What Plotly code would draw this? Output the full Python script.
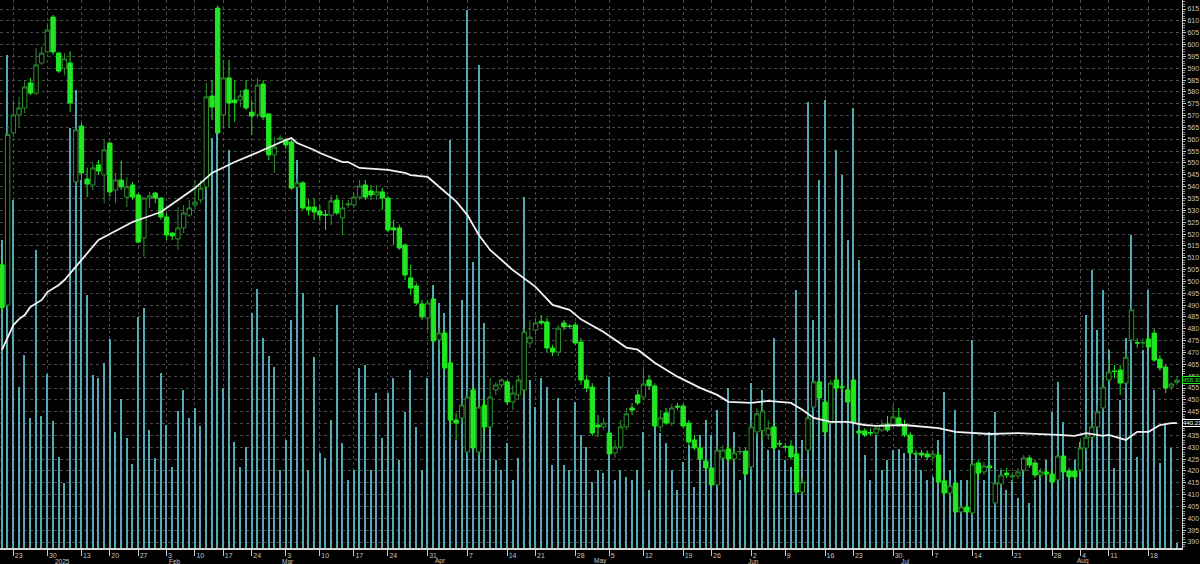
import plotly.graph_objects as go

# ---------------- data ----------------
opens = [507, 490, 562.7, 570.3, 573.2, 583.8, 579.5, 592.2, 596.9, 611.6,
         596.4, 590.0, 592.2, 542.0, 565.6, 543.2, 540.7, 549.2, 545.0, 558.4,
         538.6, 542.8, 535.6, 540.7, 536.5, 518.3, 535.2, 537.3, 535.2, 527.2,
         520.4, 517.9, 522.6, 528.0, 532.3, 534.4, 539.9, 578.3, 615.4, 570.3,
         585.9, 576.6, 576.6, 580.8, 571.5, 570.3, 583.3, 570.7, 553.4, 560.0,
         559.7, 558.9, 539.9, 541.6, 531.4, 531.4, 529.7, 528.2, 528.0, 534.4,
         526.8, 532.3, 532.3, 535.6, 540.7, 538.2, 536.5, 537.8, 535.2, 522.6,
         522.6, 515.4, 501.5, 498.1, 490.5, 484.6, 492.6, 475.3, 478.2, 465.6,
         441.5, 442.4, 428.0, 454.2, 428.0, 447.8, 438.6, 454.2, 456.3, 457.6,
         449.1, 452.1, 454.2, 474.0, 479.5, 483.2, 482.9, 471.9, 470.2, 482.5,
         481.2, 481.6, 474.4, 458.4, 455.4, 439.4, 438.6, 436.0, 427.6, 430.1,
         438.6, 446.6, 452.1, 451.2, 458.4, 455.9, 438.6, 444.5, 440.2, 447.4,
         447.4, 440.2, 433.1, 429.7, 424.2, 421.3, 414.1, 425.5, 429.3, 425.1,
         428.0, 428.4, 421.7, 436.5, 437.0, 435.2, 438.6, 431.6, 430.3, 430.5,
         427.2, 411.1, 428.8, 447.0, 457.6, 449.1, 440.2, 458.4, 455.6, 454.2,
         458.4, 436.9, 436.9, 436.2, 436.0, 437.3, 439.8, 439.8, 442.4, 439.4,
         435.2, 427.4, 427.6, 427.2, 425.9, 426.7, 415.8, 410.7, 414.9, 402.7,
         404.8, 402.3, 423.4, 419.6, 422.1, 406.5, 414.5, 419.1, 417.5, 417.9,
         420.4, 425.5, 423.4, 418.3, 419.6, 418.7, 416.2, 426.3, 420.0, 420.0,
         420.4, 429.7, 434.3, 438.6, 446.6, 458.4, 462.2, 462.6, 457.1, 475.3,
         474.2, 474.0, 475.7, 478.2, 467.2, 463.9, 455.4, 457.4]
highs = [510, 566, 576.6, 577.9, 585.0, 585.9, 598.5, 599.0, 609.0, 612.5,
         596.9, 596.4, 597.0, 565.0, 567.0, 548.0, 550.0, 551.3, 559.7, 559.0,
         545.8, 551.0, 544.0, 542.0, 537.3, 535.6, 537.8, 537.8, 535.6, 529.0,
         520.8, 531.4, 532.3, 534.4, 542.8, 542.8, 583.8, 585.0, 616.5, 593.5,
         593.5, 585.0, 580.8, 585.0, 576.6, 585.9, 585.0, 571.0, 561.0, 561.8,
         560.5, 559.7, 543.7, 542.4, 534.8, 534.8, 532.3, 530.0, 536.5, 536.5,
         534.4, 534.4, 537.3, 542.8, 542.8, 540.7, 540.7, 539.4, 536.0, 526.0,
         524.0, 516.0, 507.0, 499.3, 492.2, 492.2, 496.4, 480.3, 479.5, 466.8,
         444.5, 450.8, 454.2, 455.0, 450.0, 450.0, 459.2, 457.5, 459.2, 458.4,
         456.3, 460.5, 480.3, 483.7, 484.6, 485.8, 484.6, 473.2, 481.6, 483.7,
         482.0, 482.9, 476.0, 460.5, 457.0, 443.6, 442.4, 437.3, 433.0, 441.5,
         446.6, 448.7, 454.2, 463.5, 460.5, 457.0, 445.7, 446.6, 448.3, 448.7,
         448.3, 441.5, 435.2, 431.0, 425.5, 422.5, 431.0, 431.0, 431.0, 429.7,
         430.0, 429.7, 441.5, 446.6, 447.8, 441.5, 440.2, 433.1, 431.8, 433.1,
         428.8, 417.0, 445.7, 459.2, 459.2, 450.0, 458.4, 460.0, 457.1, 455.9,
         459.7, 438.1, 438.1, 438.1, 439.4, 441.5, 443.2, 447.8, 446.6, 441.5,
         436.5, 428.8, 428.8, 428.8, 428.8, 428.0, 417.0, 415.3, 416.2, 405.6,
         405.6, 424.6, 424.6, 423.8, 423.8, 420.4, 421.3, 421.3, 419.6, 421.3,
         426.7, 426.7, 424.6, 421.3, 420.4, 420.4, 428.8, 428.0, 421.3, 421.3,
         433.1, 437.3, 441.5, 447.8, 458.4, 466.8, 464.7, 464.7, 471.0, 492.0,
         476.0, 476.0, 477.0, 480.0, 469.0, 465.0, 457.5, 460.0]
lows = [487, 488, 561.0, 565.2, 571.0, 578.7, 578.7, 591.4, 596.4, 595.6,
        588.0, 587.0, 571.5, 540.0, 542.8, 535.6, 538.6, 545.0, 533.0, 535.6,
        533.0, 538.6, 531.4, 534.4, 516.2, 510.5, 531.0, 533.0, 526.0, 517.5,
        517.5, 513.3, 520.4, 527.2, 530.2, 533.0, 538.6, 568.0, 562.0, 564.8,
        565.0, 567.3, 573.6, 572.4, 561.8, 569.0, 568.1, 551.3, 545.8, 559.0,
        556.0, 538.6, 538.6, 530.0, 528.0, 526.0, 525.5, 521.7, 523.8, 528.0,
        519.6, 531.0, 531.0, 534.4, 534.4, 534.4, 534.4, 530.2, 520.8, 515.4,
        513.3, 500.6, 494.3, 490.0, 483.7, 479.5, 473.2, 471.0, 462.6, 439.4,
        433.1, 439.4, 426.7, 428.8, 426.7, 437.0, 437.3, 452.1, 455.0, 447.8,
        445.7, 450.0, 452.1, 471.9, 477.4, 481.6, 470.2, 468.5, 468.5, 479.5,
        480.0, 473.0, 456.3, 453.3, 434.8, 434.3, 437.3, 425.5, 425.5, 428.8,
        437.3, 443.6, 447.8, 449.9, 454.2, 438.1, 436.5, 439.4, 439.0, 445.7,
        438.1, 431.0, 428.8, 423.8, 419.6, 413.2, 413.2, 424.6, 423.8, 423.8,
        426.7, 417.9, 420.4, 434.8, 433.0, 433.1, 428.8, 430.1, 428.8, 424.6,
        410.3, 410.3, 426.7, 445.7, 450.0, 435.2, 439.4, 453.3, 453.3, 447.8,
        439.4, 434.8, 434.3, 434.8, 434.8, 436.5, 436.5, 438.9, 438.6, 434.3,
        426.7, 425.5, 425.5, 424.6, 423.8, 414.5, 409.9, 409.4, 401.9, 401.9,
        401.9, 401.5, 416.2, 418.3, 420.4, 405.6, 412.8, 417.0, 415.3, 416.6,
        419.6, 421.3, 417.0, 417.0, 417.5, 414.5, 415.3, 418.3, 416.2, 417.0,
        419.6, 428.8, 433.1, 437.3, 445.7, 457.6, 459.2, 452.1, 455.0, 474.0,
        472.0, 472.0, 471.0, 466.0, 462.2, 452.9, 454.2, 456.3]
closes = [489, 562, 570.3, 573.2, 582.1, 579.5, 591.4, 596.4, 606.1, 596.9,
          588.8, 593.9, 575.3, 564.0, 545.8, 541.1, 547.9, 546.6, 555.5, 537.8,
          542.8, 539.9, 539.9, 535.6, 516.6, 535.2, 536.1, 535.2, 527.2, 519.6,
          519.2, 522.6, 528.9, 531.0, 533.5, 539.4, 577.9, 573.6, 562.7, 585.9,
          575.3, 575.5, 578.3, 573.2, 569.8, 582.9, 569.4, 553.4, 556.7, 560.5,
          557.6, 539.4, 541.6, 531.0, 530.2, 529.3, 528.0, 528.0, 534.0, 528.9,
          531.0, 532.7, 535.6, 540.3, 535.6, 536.5, 537.8, 535.2, 521.7, 521.7,
          514.1, 502.7, 497.2, 490.9, 485.0, 490.9, 474.9, 478.2, 463.5, 441.5,
          440.2, 447.8, 451.2, 429.7, 447.0, 438.6, 451.2, 456.3, 458.4, 449.1,
          452.9, 458.4, 478.7, 476.5, 482.5, 482.5, 471.9, 470.2, 480.3, 480.8,
          481.0, 474.0, 458.4, 455.0, 436.0, 438.6, 440.2, 427.2, 430.1, 438.6,
          444.1, 445.7, 448.7, 456.7, 455.9, 439.0, 442.4, 440.2, 446.6, 447.0,
          439.0, 432.2, 429.7, 425.1, 421.3, 414.1, 428.8, 428.8, 425.1, 427.6,
          428.2, 418.7, 438.6, 444.1, 445.3, 438.1, 429.7, 431.4, 430.1, 425.9,
          411.1, 415.3, 442.4, 457.6, 450.8, 436.5, 457.1, 455.0, 455.4, 449.1,
          440.7, 436.0, 435.2, 436.0, 438.1, 439.4, 437.3, 442.8, 439.4, 435.2,
          427.6, 427.2, 426.7, 425.9, 427.2, 415.3, 410.7, 413.7, 402.7, 404.8,
          402.7, 422.9, 419.1, 422.1, 421.3, 414.9, 418.3, 418.3, 417.9, 419.6,
          425.5, 422.5, 418.3, 419.6, 418.7, 415.3, 426.3, 419.6, 417.5, 417.5,
          429.7, 434.3, 438.6, 444.9, 455.4, 461.8, 462.0, 457.1, 468.0, 488.0,
          474.0, 474.2, 472.3, 466.8, 463.5, 455.0, 456.7, 458.3]
volumes = [308, 493, 348, 161, 193, 130, 298, 132, 174, 127,
           91, 65, 420, 458, 368, 253, 173, 170, 185, 209,
           116, 149, 110, 84, 231, 240, 118, 90, 175, 123,
           81, 137, 158, 130, 140, 122, 411, 410, 528, 160,
           398, 106, 81, 101, 235, 259, 210, 192, 181, 78,
           108, 228, 388, 255, 78, 191, 95, 90, 128, 243,
           105, 68, 78, 180, 183, 78, 155, 110, 155, 170,
           88, 136, 178, 121, 78, 170, 263, 245, 235, 408,
           108, 248, 538, 286, 483, 225, 151, 88, 78, 105,
           68, 90, 351, 168, 141, 170, 161, 83, 150, 83,
           78, 146, 113, 101, 66, 78, 75, 171, 68, 78,
           71, 68, 78, 116, 58, 123, 115, 105, 78, 58,
           86, 103, 61, 113, 128, 113, 138, 98, 160, 116,
           68, 95, 165, 115, 158, 98, 210, 98, 88, 81,
           258, 108, 446, 228, 368, 448, 138, 398, 373, 308,
           440, 288, 93, 68, 113, 78, 88, 98, 99, 95,
           95, 93, 78, 68, 71, 108, 156, 78, 138, 68,
           68, 208, 78, 68, 116, 136, 78, 58, 68, 50,
           78, 45, 68, 78, 88, 136, 166, 126, 78, 88,
           106, 233, 278, 218, 258, 198, 80, 148, 210, 313,
           91, 198, 258, 158, 85, 123, 100, 5]

ma_idx = [0, 1, 2, 3, 4, 5, 7, 8, 10, 11, 14, 17, 23, 28, 31, 34, 37, 41, 44, 47,
          50, 51, 52, 55, 56, 60, 61, 63, 66, 68, 71, 72, 75, 77, 80, 82, 84, 86, 90, 94,
          97, 100, 102, 106, 110, 112, 115, 119, 123, 126, 128, 132, 135, 139, 141, 143,
          146, 149, 152, 154, 159, 165, 168, 174, 179, 186, 189, 191, 194, 195, 198, 200,
          202, 204, 206, 207]
ma_val = [471.1, 476.1, 481.6, 484.1, 485.8, 489.2, 492.2, 495.5, 498.5, 500.6,
          509.1, 517.5, 525.1, 529.3, 534.4, 539.4, 545.8, 550.4, 553.4, 556.7,
          559.7, 560.5, 558.4, 555.5, 554.2, 550.4, 550.4, 547.9, 547.3, 547.1,
          545.8, 544.9, 544.1, 539.9, 533.8, 528.0, 519.6, 513.3, 504.8, 497.7,
          490.1, 488.0, 484.0, 478.7, 472.1, 471.2, 465.7, 459.8, 455.1, 452.1,
          449.2, 448.7, 449.6, 448.7, 445.8, 442.4, 440.7, 440.7, 439.4, 439.0,
          439.4, 438.1, 436.5, 435.6, 436.0, 435.2, 434.8, 436.0, 434.8, 435.2,
          433.1, 436.5, 436.5, 439.4, 440.2, 440.21]

tick_idx = [2, 8, 14, 19, 24, 29, 34, 39, 44, 50, 56, 62, 68, 75, 82, 89, 94,
            101, 107, 113, 120, 125, 132, 138, 145, 150, 157, 164, 171, 178, 185,
            190, 195, 202]
tick_text = ["23", "30", "13", "20", "27", "3", "10", "17", "24", "3", "10", "17",
             "24", "31", "7", "14", "21", "28", "5", "12", "19", "26", "2", "9",
             "16", "23", "30", "7", "14", "21", "28", "4", "11", "18"]
month_idx = [9, 29, 49, 76, 104, 131, 158, 189]
month_text = ["2025", "Feb", "Mar", "Apr", "May", "Jun", "Jul", "Aug"]
price_ticks = list(range(390, 616, 5))
# the 440 label sits under the moving-average value box in the reference
price_tick_text = ["" if v == 440 else str(v) for v in price_ticks]

# ---------------- figure ----------------
n = len(closes)
bars = list(range(n))

BG = "#000000"
BRIGHT = "#22e622"
DIM = "#2e902e"
VOL = "#52aab4"
GRID = "#4a4a4a"
AXIS_TXT = "#c4c4c4"
FONT = "Liberation Sans, Arial"
NARROW = "Liberation Sans Narrow, Liberation Sans, Arial"

fig = go.Figure()

fig.add_trace(go.Bar(
    x=bars, y=volumes, width=0.26,
    marker=dict(color=VOL, line=dict(width=0)),
    yaxis="y", hoverinfo="skip", showlegend=False,
))

fig.add_trace(go.Candlestick(
    x=bars, open=opens, high=highs, low=lows, close=closes,
    yaxis="y2",
    increasing=dict(line=dict(color=DIM, width=1), fillcolor=BG),
    decreasing=dict(line=dict(color=BRIGHT, width=1), fillcolor=BRIGHT),
    whiskerwidth=0, showlegend=False,
))

fig.add_trace(go.Scatter(
    x=ma_idx, y=ma_val, mode="lines", yaxis="y2",
    line=dict(color="#f2f2f2", width=1.8), hoverinfo="skip", showlegend=False,
))

annotations = []
for mi, mt in zip(month_idx, month_text):
    annotations.append(dict(
        x=mi, xref="x", y=0, yref="paper", yshift=-13,
        text=mt, showarrow=False, xanchor="left", yanchor="middle",
        font=dict(family=FONT, size=6.5, color=AXIS_TXT),
    ))
annotations.append(dict(
    x=1, xref="paper", y=closes[-1], yref="y2", text=f"{closes[-1]:.2f}",
    showarrow=False, xanchor="left", yanchor="middle", xshift=0,
    font=dict(family=NARROW, size=6, color=BRIGHT),
    bgcolor=BG, bordercolor=BRIGHT, borderwidth=1, borderpad=0,
))
annotations.append(dict(
    x=1, xref="paper", y=ma_val[-1], yref="y2", text=f"{ma_val[-1]:.2f}",
    showarrow=False, xanchor="left", yanchor="middle", xshift=0,
    font=dict(family=NARROW, size=6, color="#ffffff"),
    bgcolor=BG, bordercolor="#ffffff", borderwidth=1, borderpad=0,
))

fig.update_layout(
    width=1200, height=564,
    margin=dict(l=0, r=18, t=0, b=16, autoexpand=False),
    paper_bgcolor=BG, plot_bgcolor=BG,
    showlegend=False, hovermode=False,
    bargap=0, boxgap=0.12, boxgroupgap=0.12,
    annotations=annotations,
    xaxis=dict(
        range=[-0.352, 207.89],
        rangeslider=dict(visible=False),
        tickmode="array", tickvals=tick_idx, ticktext=tick_text,
        ticks="outside", ticklen=6, tickcolor="#c8c8c8", tickwidth=1,
        ticklabelposition="outside right",
        tickfont=dict(family=FONT, size=7, color=AXIS_TXT),
        showgrid=True, gridcolor=GRID, griddash="dot", gridwidth=1,
        showline=True, linecolor="#d8d8d8", linewidth=2,
        zeroline=False, fixedrange=True, automargin=False,
    ),
    yaxis=dict(
        range=[0, 548], visible=False, showgrid=False, zeroline=False,
        fixedrange=True,
    ),
    yaxis2=dict(
        overlaying="y", side="right",
        range=[387.48, 618.80],
        tickmode="array", tickvals=price_ticks, ticktext=price_tick_text,
        ticks="outside", ticklen=3, tickcolor="#c8c8c8",
        tickfont=dict(family=FONT, size=7, color=AXIS_TXT),
        showgrid=True, gridcolor=GRID, griddash="dot", gridwidth=1,
        showline=True, linecolor="#d0d0d0", linewidth=1,
        minor=dict(dtick=1, ticks="outside", ticklen=2, tickcolor="#9a9a9a"),
        zeroline=False, fixedrange=True, automargin=False,
    ),
)

fig.write_html(
    "out.html",
    config={"displayModeBar": False},
    post_script="document.body.style.margin='0';document.body.style.padding='0';",
)
